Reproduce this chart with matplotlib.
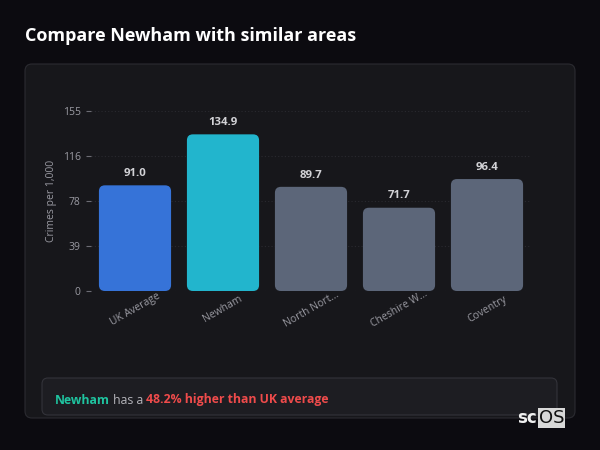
import matplotlib
matplotlib.use("Agg")
import matplotlib.pyplot as plt
from matplotlib.patches import FancyBboxPatch

plt.rcParams['font.family'] = ['Open Sans', 'DejaVu Sans']

areas = ["UK Average", "Newham", "North Nort...", "Cheshire W...", "Coventry"]
rates = [91.0, 134.9, 89.7, 71.7, 96.4]
bar_colors = ["#3673d8", "#22b5cd", "#5c6679", "#5c6679", "#5c6679"]
y_ticks = [0, 38.75, 77.5, 116.25, 155]
y_tick_labels = ["0", "39", "78", "116", "155"]
y_max = 155

BG = "#0c0b10"
CARD = "#17171b"
GRAY = "#9a9aa2"

W, H = 600, 450
fig = plt.figure(figsize=(6, 4.5), dpi=100, facecolor=BG)


def fig_box(x0, y0, x1, y1, r, fc, ec, z=0):
    # pixel coords (top-left origin) -> figure fraction rounded box
    p = FancyBboxPatch((x0 / W, 1 - y1 / H), (x1 - x0) / W, (y1 - y0) / H,
                       boxstyle=f"round,pad=0,rounding_size={r / W}",
                       mutation_aspect=W / H, transform=fig.transFigure,
                       fc=fc, ec=ec, lw=0.8, zorder=z)
    fig.patches.append(p)


fig_box(25, 64, 575, 418, 7, CARD, "#2b2b31", z=-2)
fig_box(42, 378, 557, 415, 6, "#1d1d22", "#33333a", z=-1)

fig.text(25 / W, 1 - 36 / H, "Compare Newham with similar areas", color="white",
         fontsize=13, fontweight="bold", va="center", ha="left")

ax = fig.add_axes([91 / W, 1 - 291 / H, 440 / W, 180 / H])
ax.set_zorder(5)
ax.set_facecolor("none")
ax.set_xlim(-0.5, len(areas) - 0.5)
ax.set_ylim(0, y_max)
for s in ax.spines.values():
    s.set_visible(False)

# rounded bars
bw = 0.82
px_per_x = 440 / len(areas)
px_per_y = 180 / y_max
r_px = 6
for i, (v, c) in enumerate(zip(rates, bar_colors)):
    p = FancyBboxPatch((i - bw / 2, 0), bw, v,
                       boxstyle=f"round,pad=0,rounding_size={r_px / px_per_x}",
                       mutation_aspect=px_per_x / px_per_y, fc=c, ec="none", zorder=3)
    ax.add_patch(p)
    ax.annotate(f"{v:.1f}", (i, v), xytext=(0, 4.5), textcoords="offset points",
                ha="center", va="bottom", color="#d2d2d6", fontsize=8.2, fontweight="bold")

ax.set_yticks(y_ticks)
ax.set_yticklabels(y_tick_labels)
ax.tick_params(axis="y", colors="#6c6c74", labelcolor=GRAY, labelsize=7.5, length=3.5, width=0.8, pad=4)
ax.grid(axis="y", color="#2a2a30", ls=(0, (1, 2)), lw=0.8, zorder=0)

ax.set_xticks(range(len(areas)))
ax.set_xticklabels(areas, rotation=30, ha="center", va="center", rotation_mode="anchor")
ax.tick_params(axis="x", length=0, labelcolor=GRAY, labelsize=7.5, pad=13)

ax.set_ylabel("Crimes per 1,000", color=GRAY, fontsize=7.5, labelpad=4)

# summary line with coloured segments
fig.canvas.draw()
rend = fig.canvas.get_renderer()
x = 55
y = 1 - 400 / H
for txt, col, wt in [("Newham", "#1fc4a0", "bold"), (" has a ", "#b4b4ba", "normal"),
                     ("48.2% higher than UK average", "#ef4b4b", "bold")]:
    t = fig.text(x / W, y, txt, color=col, fontsize=8.8, fontweight=wt, va="center", ha="left")
    x += t.get_window_extent(rend).width

# watermark
fig.text(517 / W, 1 - 418 / H, "sc", color="#f0f0f0", fontsize=12, fontweight="bold",
         va="center", ha="left", family=["DejaVu Sans"])
fig.text(539 / W, 1 - 418 / H, "OS", color="#111111", fontsize=13, va="center", ha="left",
         family=["DejaVu Sans"],
         bbox=dict(boxstyle="square,pad=0.05", fc="#d8d8d8", ec="none"))

fig.savefig("out.png", dpi=100, facecolor=BG)
